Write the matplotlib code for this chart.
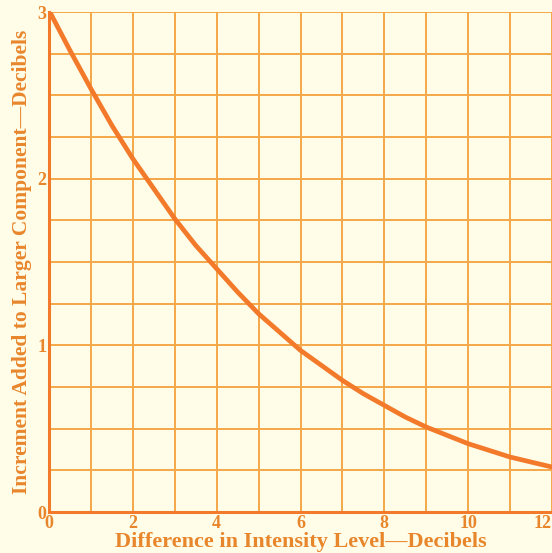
import matplotlib
matplotlib.use("Agg")
import matplotlib.pyplot as plt

# values
level_diff = [0, 0.5, 1, 1.5, 2, 2.5, 3, 3.5, 4, 4.5, 5, 5.5, 6, 6.5, 7, 7.5, 8,
              8.5, 9, 9.5, 10, 10.5, 11, 11.5, 12]
increment = [3.01, 2.77, 2.54, 2.32, 2.12, 1.94, 1.76, 1.60, 1.46, 1.32, 1.19,
             1.08, 0.97, 0.88, 0.79, 0.71, 0.64, 0.57, 0.51, 0.46, 0.41, 0.37,
             0.33, 0.30, 0.27]
x_ticks = [0, 2, 4, 6, 8, 10, 12]
y_ticks = [0, 1, 2, 3]

bg = '#fffde8'
grid_col = '#f4a848'
line_col = '#f27a2a'
text_col = '#e8862c'

fig = plt.figure(figsize=(5.52, 5.53), dpi=100, facecolor=bg)
ax = fig.add_axes([0.0888, 0.0741, 0.9112, 0.904])
ax.set_facecolor(bg)

for i in range(13):
    ax.axvline(i, color=grid_col, lw=1.4, zorder=1)
for j in range(13):
    ax.axhline(j * 0.25, color=grid_col, lw=1.4, zorder=1)

ax.plot(level_diff, increment, color=line_col, lw=3.4, zorder=3,
        solid_capstyle='round', solid_joinstyle='round')

ax.set_xlim(0, 12)
ax.set_ylim(0, 3)
ax.set_xticks(x_ticks)
ax.set_yticks(y_ticks)
font = dict(family='Liberation Serif', weight='bold', color=text_col)
ax.set_xticklabels([str(t) for t in x_ticks], fontsize=13, **font)
ax.set_yticklabels([str(t) for t in y_ticks], fontsize=13, **font)
ax.get_xticklabels()[-1].set_ha('right')
ax.tick_params(length=0, pad=2)
for s in ['left', 'bottom']:
    ax.spines[s].set_color(line_col)
    ax.spines[s].set_linewidth(2.2)
for s in ['top', 'right']:
    ax.spines[s].set_visible(False)

ax.set_xlabel('Difference in Intensity Level\u2014Decibels', fontsize=16, labelpad=0, **font)
ax.set_ylabel('Increment Added to Larger Component\u2014Decibels', fontsize=15.5, labelpad=4, **font)

fig.savefig('out.png', dpi=100, facecolor=bg)
